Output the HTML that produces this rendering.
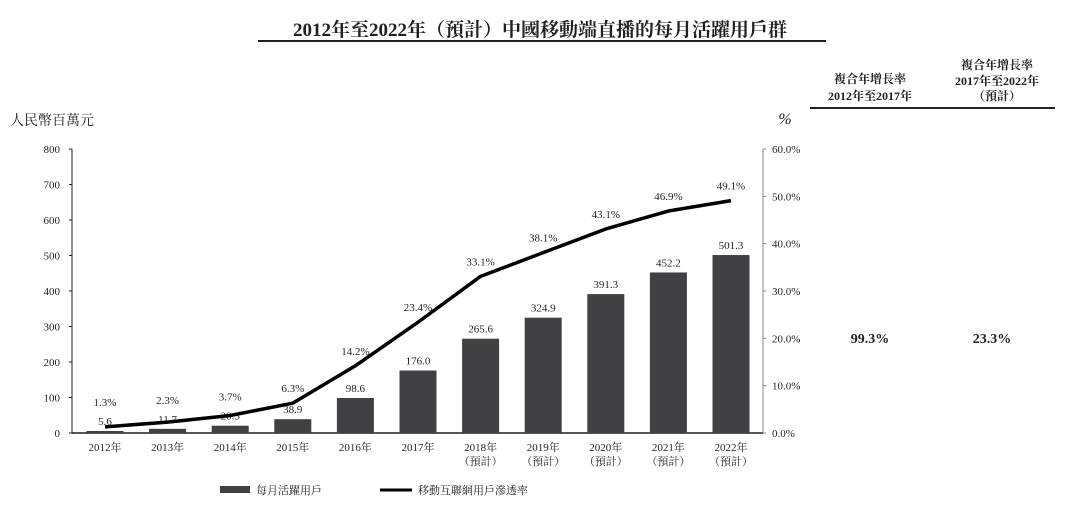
<!DOCTYPE html>
<html><head><meta charset="utf-8"><style>
body{margin:0;background:#fff;}
svg text{font-family:"Liberation Serif","Noto Serif CJK SC",serif;fill:#231f20;}
</style></head><body>
<svg width="1080" height="508" id="c">
<text x="540" y="36" text-anchor="middle" font-size="19" font-weight="bold">2012年至2022年（預計）中國移動端直播的每月活躍用戶群</text>
<line x1="258" y1="41" x2="826" y2="41" stroke="#231f20" stroke-width="2"/>
<text x="10" y="125" font-size="14">人民幣百萬元</text>
<text x="785" y="124" font-size="16" text-anchor="middle" font-style="italic">%</text>
<g font-size="12" font-weight="bold" text-anchor="middle">
<text x="870" y="83">複合年增長率</text>
<text x="870" y="100">2012年至2017年</text>
<text x="997" y="69">複合年增長率</text>
<text x="997" y="85">2017年至2022年</text>
<text x="997" y="100">（預計）</text>
</g>
<line x1="810" y1="108" x2="1055" y2="108" stroke="#231f20" stroke-width="2"/>
<text x="870" y="343" font-size="14" font-weight="bold" text-anchor="middle">99.3%</text>
<text x="992" y="343" font-size="14" font-weight="bold" text-anchor="middle">23.3%</text>
<g id="plot"></g>
<rect x="220" y="486" width="30" height="7" fill="#414042"/>
<text x="256" y="494" font-size="11">每月活躍用戶</text>
<line x1="380" y1="490" x2="412" y2="490" stroke="#000" stroke-width="3"/>
<text x="418" y="494" font-size="11">移動互聯網用戶滲透率</text>
</svg>
<script>
const categories=["2012年","2013年","2014年","2015年","2016年","2017年","2018年","2019年","2020年","2021年","2022年"];
const forecast=[false,false,false,false,false,false,true,true,true,true,true];
const users=[5.6,11.7,20.5,38.9,98.6,176.0,265.6,324.9,391.3,452.2,501.3];
const penetration=[1.3,2.3,3.7,6.3,14.2,23.4,33.1,38.1,43.1,46.9,49.1];
const leftTicks=[0,100,200,300,400,500,600,700,800];
const rightTicks=[0,10,20,30,40,50,60];
const NS="http://www.w3.org/2000/svg";
const g=document.getElementById('plot');
const y0=433,yTop=149,xL=72,xR=763;
const yL=v=>y0-(v/800)*(y0-yTop);
const yR=v=>y0-(v/60)*(y0-yTop);
const xC=i=>105+i*62.6;
function mk(t,a,txt){const e=document.createElementNS(NS,t);for(const k in a)e.setAttribute(k,a[k]);if(txt!=null)e.textContent=txt;g.appendChild(e);return e;}
let e;
e=mk('line',{x1:xL,y1:yTop,x2:xL,y2:y0,stroke:'#231f20','stroke-width':1});

e=mk('line',{x1:xL,y1:y0,x2:xR,y2:y0,stroke:'#231f20','stroke-width':1.5});

e=mk('line',{x1:xR,y1:yTop,x2:xR,y2:y0,stroke:'#888','stroke-width':1});

leftTicks.forEach(v=>{
 e=mk('line',{x1:xL-3,y1:yL(v),x2:xL,y2:yL(v),stroke:'#231f20'});
 
 e=mk('text',{x:60,y:yL(v)+4,'font-size':11,'text-anchor':'end'},v);
 
});
rightTicks.forEach(v=>{
 e=mk('line',{x1:xR,y1:yR(v),x2:xR+3,y2:yR(v),stroke:'#888'});
 
 e=mk('text',{x:772,y:yR(v)+4,'font-size':11},v.toFixed(1)+'%');
 
});
users.forEach((v,i)=>{
 e=mk('rect',{x:xC(i)-18.5,y:yL(v),width:37,height:y0-yL(v),fill:'#414042'});
 
 e=mk('text',{x:xC(i),y:yL(v)-6,'font-size':11,'text-anchor':'middle'},v.toFixed(1));
 
 e=mk('text',{x:xC(i),y:451,'font-size':11,'text-anchor':'middle'},categories[i]);
 
 if(forecast[i]){e=mk('text',{x:xC(i),y:465,'font-size':11,'text-anchor':'middle'},'（預計）');
 }
});
e=mk('polyline',{points:penetration.map((v,i)=>xC(i)+','+yR(v)).join(' '),fill:'none',stroke:'#000','stroke-width':3.5,'stroke-linejoin':'round'});

penetration.forEach((v,i)=>{
 let ly=Math.min(yR(v),yL(users[i])-14)-11;
 e=mk('text',{x:xC(i),y:ly,'font-size':11,'text-anchor':'middle'},v.toFixed(1)+'%');
 
});
</script>
</body></html>
